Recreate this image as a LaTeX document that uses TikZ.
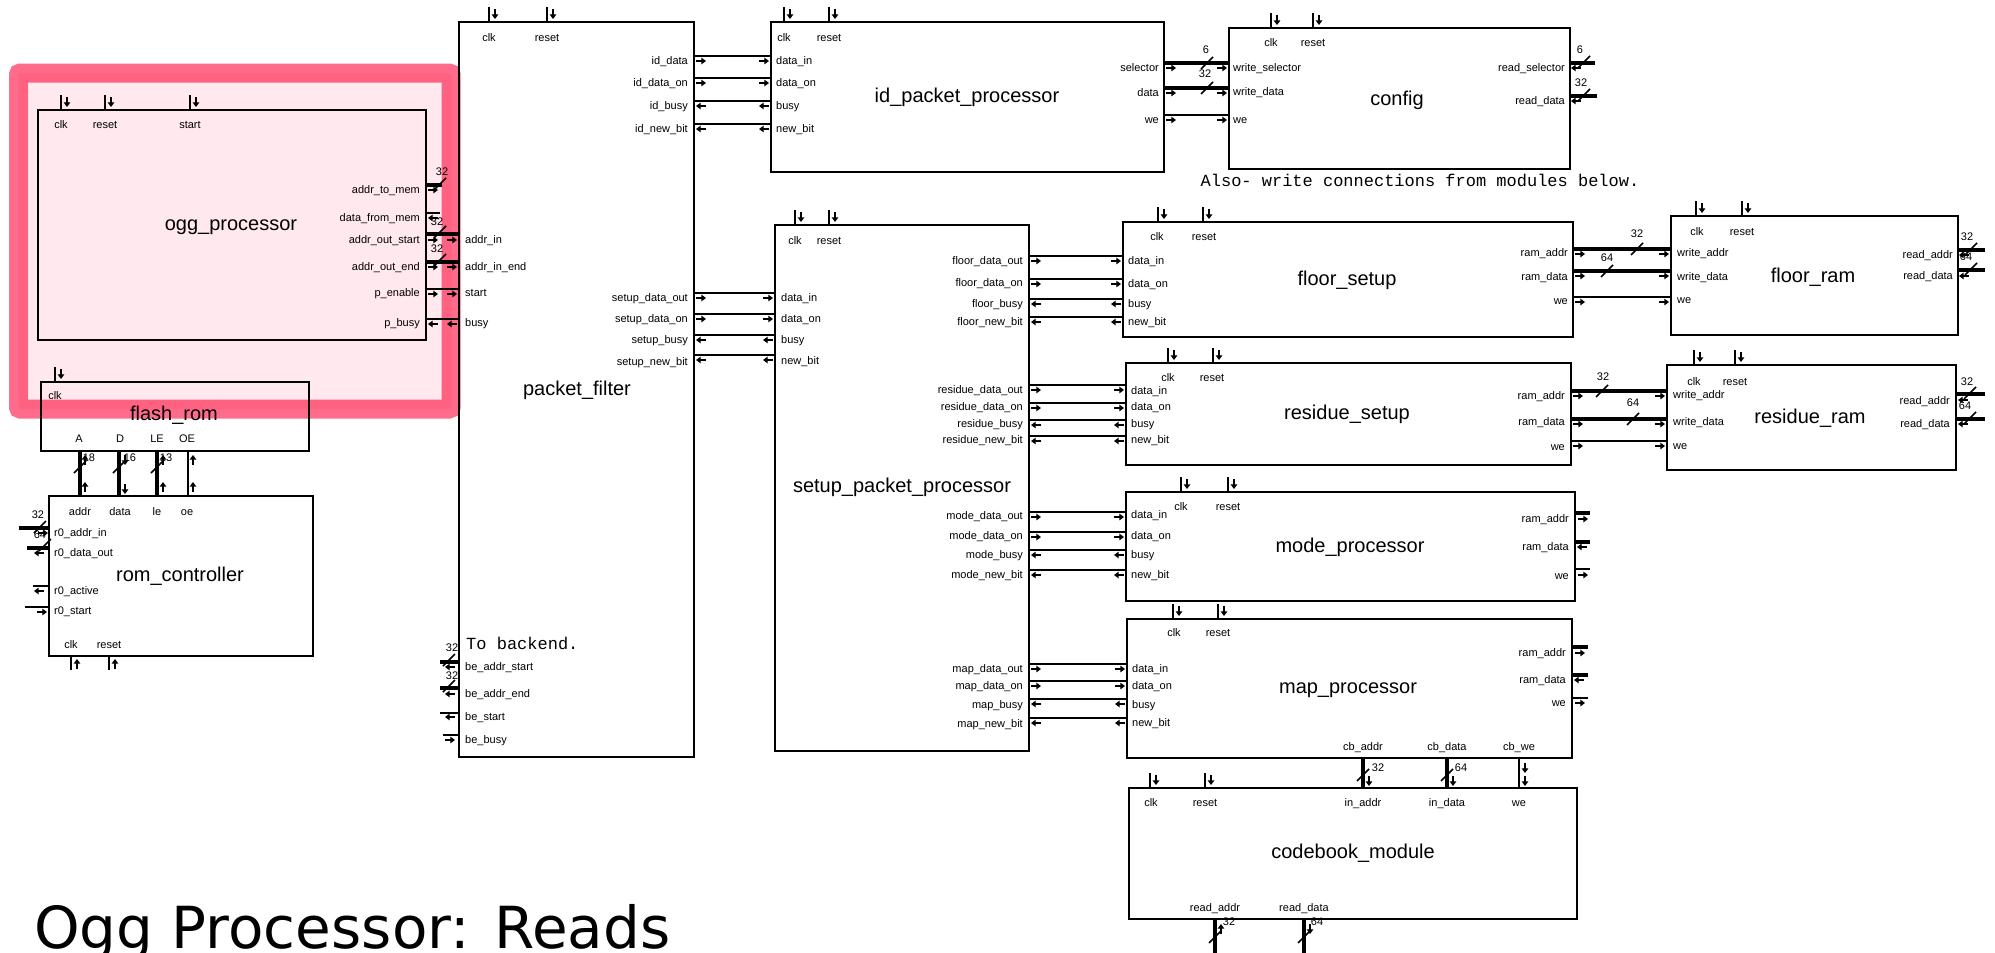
\documentclass[tikz,border=0pt]{standalone}
\usepackage{fontspec}
\setmainfont{Liberation Sans}
\newfontfamily\monof{Liberation Mono}
\newfontfamily\bigf{DejaVu Sans}
\usetikzlibrary{arrows.meta,calc}
\definecolor{hlpink}{RGB}{255,107,139}
\definecolor{hlfill}{RGB}{255,232,238}
\newcommand\lblf{\fontsize{11}{13}\selectfont}
\newcommand\ttlf{\fontsize{20}{24}\selectfont}
\newcommand\monf{\monof\fontsize{17}{20}\selectfont}
\tikzset{
 box/.style={draw, line width=1.6pt, inner sep=0pt, outer sep=0pt, anchor=north west},
 wire/.style={line width=1.5pt},
 bus/.style={line width=3.2pt},
 tip/.style={line width=1.6pt, -{Triangle[length=4.6pt,width=6.4pt]}},
 lbl/.style={font=\lblf, inner sep=0pt, text height=8pt, text depth=2pt},
 ttl/.style={font=\ttlf, inner sep=0pt, text height=14pt, text depth=4pt},
 mono/.style={font=\monf, inner sep=0pt, text height=11pt, text depth=3pt},
}
\newcommand\modbox[5]{\node[box, minimum width={(#4)-(#2)}, minimum height={(#5)-(#3)}] (#1) at (#2,#3) {};}
\newcommand\pR[2]{\draw[tip] ({#1-5},{#2}) -- ({#1+5},{#2});}
\newcommand\pL[2]{\draw[tip] ({#1+5},{#2}) -- ({#1-5},{#2});}
\newcommand\pD[2]{\draw[tip] ({#1},{#2-5}) -- ({#1},{#2+5});}
\newcommand\pU[2]{\draw[tip] ({#1},{#2+5}) -- ({#1},{#2-5});}
\newcommand\bsl[2]{\draw[line width=1.6pt] ({#1-6},{#2+6}) -- ({#1+6},{#2-6});}
\newcommand\tpin[2]{\draw[wire] (#1,#2) -- (#1,{#2-15}); \pD{#1+6}{#2-8}}
\newcommand\bpin[2]{\draw[wire] (#1,#2) -- (#1,{#2+14}); \pU{#1+6}{#2+8}}
\newcommand\tL[3]{\node[lbl,anchor=west] at (#1,#2) {#3};}
\newcommand\tR[3]{\node[lbl,anchor=east] at (#1,#2) {#3};}
\newcommand\tC[3]{\node[lbl] at (#1,#2) {#3};}
% horizontal connector between two boxes: style, from, to, y
\newcommand\hc[4]{\draw[#1] (#2.east |- 0,#4) -- (#3.west |- 0,#4);}
\begin{document}
\begin{tikzpicture}[x=1pt,y=-1pt]
\useasboundingbox (0,0) rectangle (1995,953);
\fill[white] (0,0) rectangle (1995,953);
\fill[hlfill, rounded corners=2pt] (18.5,73) rectangle (451,409);

% ---------------- boxes
\modbox{ogg}{38}{110}{426}{340}
\modbox{flash}{41}{382}{309}{451}
\modbox{romc}{49}{496}{313}{656}
\modbox{pf}{459}{22}{694}{757}
\modbox{idp}{771}{22}{1164}{172}
\modbox{cfg}{1229}{28}{1570}{169}
\modbox{spp}{775}{225}{1029}{751}
\modbox{fs}{1123}{222}{1573}{337}
\modbox{fr}{1671}{216}{1958}{335}
\modbox{rs}{1126}{363}{1571}{465}
\modbox{rr}{1667}{365}{1956}{470}
\modbox{mp}{1126}{492}{1575}{601}
\modbox{mapp}{1127}{619}{1572}{758}
\modbox{cb}{1129}{788}{1577}{919}

% ---------------- titles
\node[ttl] (t1) at (231,225) {ogg\_processor};
\node[ttl] (t2) at (174,415) {flash\_rom};
\node[ttl] (t3) at (180,576) {rom\_controller};
\node[ttl] (t4) at (577,390) {packet\_filter};
\node[ttl] (t5) at (967,97) {id\_packet\_processor};
\node[ttl] (t6) at (1397,100) {config};
\node[ttl] (t7) at (902,487) {setup\_packet\_processor};
\node[ttl] (t8) at (1347,280) {floor\_setup};
\node[ttl] (t9) at (1813,277) {floor\_ram};
\node[ttl] (t10) at (1347,414) {residue\_setup};
\node[ttl] (t11) at (1810,418) {residue\_ram};
\node[ttl] (t12) at (1350,547) {mode\_processor};
\node[ttl] (t13) at (1348,688) {map\_processor};
\node[ttl] (t14) at (1353,853) {codebook\_module};

% ---------------- ogg_processor
\tpin{61}{110}\tpin{105}{110}\tpin{190}{110}
\tC{61}{125}{clk}\tC{105}{125}{reset}\tC{190}{125}{start}
\tR{420}{190}{addr\_to\_mem}
\tR{420}{218}{data\_from\_mem}
\tR{420}{240}{addr\_out\_start}
\tR{420}{267}{addr\_out\_end}
\tR{420}{293}{p\_enable}
\tR{420}{323}{p\_busy}
\draw[bus] (ogg.east |- 0,185) -- ++(16,0); \bsl{440}{184}\tC{442}{172}{32}\pR{433}{190}
\draw[wire] (ogg.east |- 0,213) -- ++(14,0); \pL{433}{218}
\hc{bus}{ogg}{pf}{234} \bsl{440}{232}\tC{437}{222}{32}\pR{433}{240}\pR{452}{240}
\hc{bus}{ogg}{pf}{262} \bsl{440}{260}\tC{437}{249}{32}\pR{433}{267}\pR{452}{267}
\hc{wire}{ogg}{pf}{289} \pR{433}{294}\pR{452}{294}
\hc{wire}{ogg}{pf}{319} \pL{433}{324}\pL{452}{324}

% ---------------- packet_filter
\tpin{489}{22}\tpin{547}{22}
\tC{489}{38}{clk}\tC{547}{38}{reset}
\tL{465}{240}{addr\_in}\tL{465}{267}{addr\_in\_end}\tL{465}{293}{start}\tL{465}{323}{busy}
\tR{688}{61}{id\_data}\tR{688}{83}{id\_data\_on}\tR{688}{106}{id\_busy}\tR{688}{129}{id\_new\_bit}
\tR{688}{298}{setup\_data\_out}\tR{688}{319}{setup\_data\_on}\tR{688}{340}{setup\_busy}\tR{688}{362}{setup\_new\_bit}
\hc{wire}{pf}{idp}{56}\pR{701}{61}\pR{764}{61}
\hc{wire}{pf}{idp}{78}\pR{701}{83}\pR{764}{83}
\hc{wire}{pf}{idp}{101}\pL{701}{106}\pL{764}{106}
\hc{wire}{pf}{idp}{124}\pL{701}{129}\pL{764}{129}
\hc{wire}{pf}{spp}{293}\pR{701}{298}\pR{768}{298}
\hc{wire}{pf}{spp}{314}\pR{701}{319}\pR{768}{319}
\hc{wire}{pf}{spp}{335}\pL{701}{340}\pL{768}{340}
\hc{wire}{pf}{spp}{355}\pL{701}{360}\pL{768}{360}
\node[mono,anchor=west] (tb) at (466,645) {To backend.};
\draw[bus] (pf.west |- 0,662) -- ++(-19,0); \bsl{449}{660}\tC{452}{648}{32}\pL{450}{667}
\draw[bus] (pf.west |- 0,688) -- ++(-19,0); \bsl{449}{686}\tC{452}{676}{32}\pL{450}{694}
\draw[wire] (pf.west |- 0,713) -- ++(-19,0); \pL{450}{717}
\draw[wire] (pf.west |- 0,735) -- ++(-16,0); \pR{450}{740}
\tL{465}{667}{be\_addr\_start}\tL{465}{694}{be\_addr\_end}\tL{465}{717}{be\_start}\tL{465}{740}{be\_busy}

% ---------------- id_packet_processor
\tpin{784}{22}\tpin{829}{22}
\tC{784}{38}{clk}\tC{829}{38}{reset}
\tL{776}{61}{data\_in}\tL{776}{83}{data\_on}\tL{776}{106}{busy}\tL{776}{129}{new\_bit}
\tR{1159}{68}{selector}\tR{1159}{93}{data}\tR{1159}{120}{we}
\hc{bus}{idp}{cfg}{63}\bsl{1207}{63}\tC{1206}{50}{6}\pR{1171}{68}\pR{1222}{68}
\hc{bus}{idp}{cfg}{88}\bsl{1207}{88}\tC{1205}{74}{32}\pR{1171}{93}\pR{1222}{93}
\hc{wire}{idp}{cfg}{115}\pR{1171}{120}\pR{1222}{120}

% ---------------- config
\tpin{1271}{28}\tpin{1313}{28}
\tC{1271}{43}{clk}\tC{1313}{43}{reset}
\tL{1233}{68}{write\_selector}\tL{1233}{92}{write\_data}\tL{1233}{120}{we}
\tR{1565}{68}{read\_selector}\tR{1565}{101}{read\_data}
\draw[bus] (cfg.east |- 0,63) -- ++(25,0); \bsl{1584}{62}\tC{1580}{50}{6}\pL{1576}{68}
\draw[bus] (cfg.east |- 0,96) -- ++(27,0); \bsl{1584}{95}\tC{1581}{83}{32}\pL{1576}{101}
\node[mono] (also) at (1420,182) {Also- write connections from modules below.};

% ---------------- setup_packet_processor
\tpin{795}{225}\tpin{829}{225}
\tC{795}{241}{clk}\tC{829}{241}{reset}
\tL{781}{298}{data\_in}\tL{781}{319}{data\_on}\tL{781}{340}{busy}\tL{781}{361}{new\_bit}
\tR{1023}{261}{floor\_data\_out}\tR{1023}{283}{floor\_data\_on}\tR{1023}{304}{floor\_busy}\tR{1023}{322}{floor\_new\_bit}
\tR{1023}{390}{residue\_data\_out}\tR{1023}{407}{residue\_data\_on}\tR{1023}{424}{residue\_busy}\tR{1023}{440}{residue\_new\_bit}
\tR{1023}{516}{mode\_data\_out}\tR{1023}{536}{mode\_data\_on}\tR{1023}{555}{mode\_busy}\tR{1023}{575}{mode\_new\_bit}
\tR{1023}{669}{map\_data\_out}\tR{1023}{686}{map\_data\_on}\tR{1023}{705}{map\_busy}\tR{1023}{724}{map\_new\_bit}
\hc{wire}{spp}{fs}{256}\pR{1036}{261}\pR{1116}{261}
\hc{wire}{spp}{fs}{279}\pR{1036}{284}\pR{1116}{284}
\hc{wire}{spp}{fs}{299}\pL{1036}{304}\pL{1116}{304}
\hc{wire}{spp}{fs}{317}\pL{1036}{322}\pL{1116}{322}
\hc{wire}{spp}{rs}{385}\pR{1036}{390}\pR{1119}{390}
\hc{wire}{spp}{rs}{403}\pR{1036}{408}\pR{1119}{408}
\hc{wire}{spp}{rs}{420}\pL{1036}{425}\pL{1119}{425}
\hc{wire}{spp}{rs}{436}\pL{1036}{441}\pL{1119}{441}
\hc{wire}{spp}{mp}{512}\pR{1036}{517}\pR{1119}{517}
\hc{wire}{spp}{mp}{532}\pR{1036}{537}\pR{1119}{537}
\hc{wire}{spp}{mp}{550}\pL{1036}{555}\pL{1119}{555}
\hc{wire}{spp}{mp}{570}\pL{1036}{575}\pL{1119}{575}
\hc{wire}{spp}{mapp}{664}\pR{1036}{669}\pR{1120}{669}
\hc{wire}{spp}{mapp}{681}\pR{1036}{686}\pR{1120}{686}
\hc{wire}{spp}{mapp}{699}\pL{1036}{704}\pL{1120}{704}
\hc{wire}{spp}{mapp}{718}\pL{1036}{723}\pL{1120}{723}

% ---------------- floor_setup
\tpin{1158}{222}\tpin{1203}{222}
\tC{1157}{237}{clk}\tC{1204}{237}{reset}
\tL{1128}{261}{data\_in}\tL{1128}{284}{data\_on}\tL{1128}{304}{busy}\tL{1128}{322}{new\_bit}
\tR{1568}{253}{ram\_addr}\tR{1568}{277}{ram\_data}\tR{1568}{301}{we}
\hc{bus}{fs}{fr}{249}\bsl{1637}{249}\tC{1637}{234}{32}\pR{1580}{254}\pR{1664}{254}
\hc{bus}{fs}{fr}{271}\bsl{1607}{271}\tC{1607}{258}{64}\pR{1580}{276}\pR{1664}{276}
\hc{wire}{fs}{fr}{297}\pR{1580}{302}\pR{1664}{302}

% ---------------- floor_ram
\tpin{1696}{216}\tpin{1742}{216}
\tC{1697}{232}{clk}\tC{1742}{232}{reset}
\tL{1677}{253}{write\_addr}\tL{1677}{277}{write\_data}\tL{1677}{300}{we}
\tR{1953}{255}{read\_addr}\tR{1953}{276}{read\_data}
\draw[bus] (fr.east |- 0,250) -- ++(27,0); \bsl{1971}{249}\tC{1967}{237}{32}\pL{1964}{255}
\draw[bus] (fr.east |- 0,270) -- ++(27,0); \bsl{1971}{269}\tC{1966}{257}{64}\pL{1964}{276}

% ---------------- residue_setup
\tpin{1168}{363}\tpin{1213}{363}
\tC{1168}{378}{clk}\tC{1212}{378}{reset}
\tL{1131}{391}{data\_in}\tL{1131}{407}{data\_on}\tL{1131}{424}{busy}\tL{1131}{440}{new\_bit}
\tR{1565}{396}{ram\_addr}\tR{1565}{422}{ram\_data}\tR{1565}{447}{we}
\hc{bus}{rs}{rr}{391}\bsl{1602}{391}\tC{1603}{377}{32}\pR{1578}{396}\pR{1660}{396}
\hc{bus}{rs}{rr}{419}\bsl{1633}{419}\tC{1633}{403}{64}\pR{1578}{424}\pR{1660}{424}
\hc{wire}{rs}{rr}{441}\pR{1578}{446}\pR{1660}{446}

% ---------------- residue_ram
\tpin{1694}{365}\tpin{1735}{365}
\tC{1694}{382}{clk}\tC{1735}{382}{reset}
\tL{1673}{395}{write\_addr}\tL{1673}{422}{write\_data}\tL{1673}{446}{we}
\tR{1950}{401}{read\_addr}\tR{1950}{424}{read\_data}
\draw[bus] (rr.east |- 0,394) -- ++(29,0); \bsl{1970}{393}\tC{1967}{382}{32}\pL{1963}{400}
\draw[bus] (rr.east |- 0,419) -- ++(29,0); \bsl{1970}{418}\tC{1965}{406}{64}\pL{1963}{424}

% ---------------- mode_processor
\tpin{1181}{492}\tpin{1228}{492}
\tC{1181}{507}{clk}\tC{1228}{507}{reset}
\tL{1131}{515}{data\_in}\tL{1131}{536}{data\_on}\tL{1131}{555}{busy}\tL{1131}{575}{new\_bit}
\tR{1569}{519}{ram\_addr}\tR{1569}{547}{ram\_data}\tR{1569}{576}{we}
\draw[bus] (mp.east |- 0,513) -- ++(15,0); \pR{1583}{519}
\draw[bus] (mp.east |- 0,542) -- ++(15,0); \pL{1582}{547}
\draw[wire] (mp.east |- 0,569) -- ++(15,0); \pR{1583}{575}

% ---------------- map_processor
\tpin{1173}{619}\tpin{1218}{619}
\tC{1174}{633}{clk}\tC{1218}{633}{reset}
\tL{1132}{669}{data\_in}\tL{1132}{686}{data\_on}\tL{1132}{705}{busy}\tL{1132}{723}{new\_bit}
\tR{1566}{653}{ram\_addr}\tR{1566}{680}{ram\_data}\tR{1566}{703}{we}
\draw[bus] (mapp.east |- 0,647) -- ++(16,0); \pR{1580}{653}
\draw[bus] (mapp.east |- 0,675) -- ++(16,0); \pL{1579}{680}
\draw[wire] (mapp.east |- 0,698) -- ++(16,0); \pR{1580}{703}
\tC{1363}{747}{cb\_addr}\tC{1447}{747}{cb\_data}\tC{1519}{747}{cb\_we}
\draw[bus] (mapp.south -| 1363,0) -- (cb.north -| 1363,0); \bsl{1363}{775}\tC{1378}{768}{32}\pD{1369}{781}
\draw[bus] (mapp.south -| 1447,0) -- (cb.north -| 1447,0); \bsl{1447}{775}\tC{1461}{768}{64}\pD{1453}{781}
\draw[wire] (mapp.south -| 1519,0) -- (cb.north -| 1519,0); \pD{1525}{768}\pD{1525}{781}

% ---------------- codebook_module
\tpin{1150}{788}\tpin{1205}{788}
\tC{1151}{803}{clk}\tC{1205}{803}{reset}
\tC{1363}{803}{in\_addr}\tC{1447}{803}{in\_data}\tC{1519}{803}{we}
\tC{1215}{908}{read\_addr}\tC{1304}{908}{read\_data}
\draw[bus] (cb.south -| 1215,0) -- ++(0,36); \bsl{1215}{937}\tC{1229}{922}{32}\pU{1221}{929}
\draw[bus] (cb.south -| 1304,0) -- ++(0,36); \bsl{1304}{937}\tC{1317}{922}{64}\pD{1310}{929}

% ---------------- flash_rom
\tpin{55}{382}
\tC{55}{396}{clk}
\tC{79}{439}{A}\tC{120}{439}{D}\tC{157}{439}{LE}\tC{187}{439}{OE}
\draw[bus] (flash.south -| 80,0) -- (romc.north -| 80,0); \bsl{80}{467}\tC{89}{458}{18}\pU{85}{460}\pU{85}{487}
\draw[bus] (flash.south -| 119,0) -- (romc.north -| 119,0); \bsl{119}{467}\tC{130}{458}{16}\pD{125}{460}\pD{125}{489}
\draw[bus] (flash.south -| 157,0) -- (romc.north -| 157,0); \bsl{157}{467}\tC{166}{458}{13}\pU{163}{460}\pU{163}{487}
\draw[wire] (flash.south -| 188,0) -- (romc.north -| 188,0); \pU{193}{460}\pU{193}{487}

% ---------------- rom_controller
\tC{80}{512}{addr}\tC{120}{512}{data}\tC{157}{512}{le}\tC{187}{512}{oe}
\tL{54}{533}{r0\_addr\_in}\tL{54}{553}{r0\_data\_out}\tL{54}{591}{r0\_active}\tL{54}{611}{r0\_start}
\draw[bus] (romc.west |- 0,528) -- ++(-30,0); \bsl{40}{527}\tC{38}{515}{32}\pR{43}{533}
\draw[bus] (romc.west |- 0,548) -- ++(-22,0); \bsl{45}{545}\tC{40}{535}{64}\pL{39}{553}
\draw[wire] (romc.west |- 0,586) -- ++(-16,0); \pL{39}{591}
\draw[wire] (romc.west |- 0,607) -- ++(-24,0); \pR{42}{612}
\tC{71}{645}{clk}\tC{109}{645}{reset}
\bpin{71}{656}\bpin{109}{656}

% ---------------- big caption
\node[anchor=base west, inner sep=0pt, font=\bigf\fontsize{58}{70}\selectfont] (cap) at (34,948) {Ogg Processor: Reads};

% ---------------- highlight overlay
\begin{scope}[blend mode=multiply]
\draw[hlpink, line width=19pt, rounded corners=2pt] (18.5,73) rectangle (451,409);
\end{scope}
\end{tikzpicture}
\end{document}
